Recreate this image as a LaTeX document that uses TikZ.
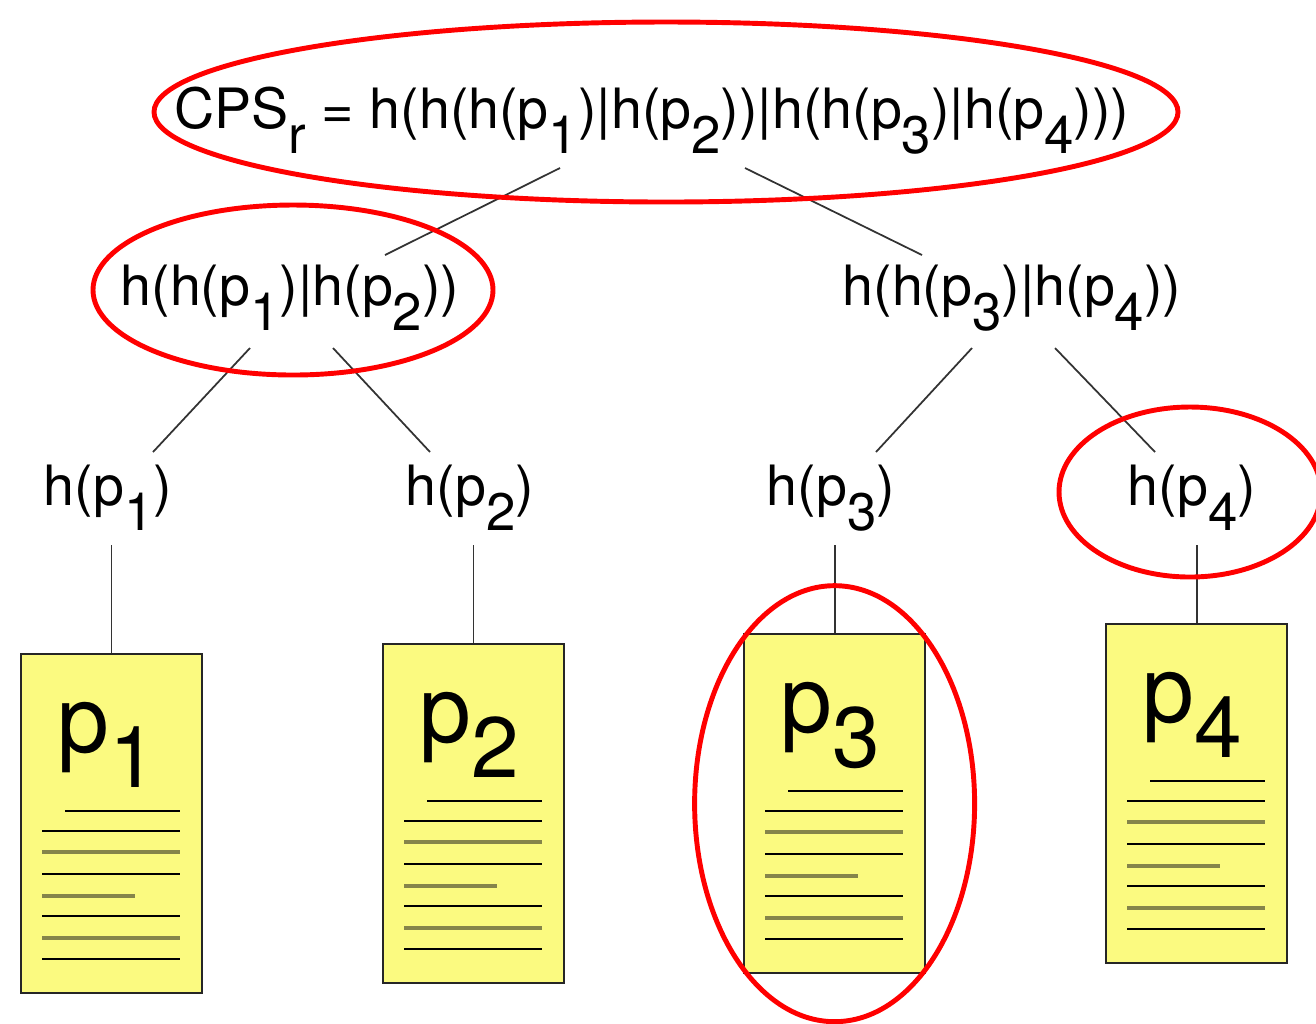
\documentclass[tikz,border=0pt]{standalone}
\usepackage{fontspec}
\setmainfont{TeX Gyre Heros}
\usepackage{graphicx}
\usetikzlibrary{calc}

\definecolor{docyellow}{HTML}{FBFA80}
\definecolor{docolive}{HTML}{85844A}

\newcommand{\ix}[1]{\raisebox{-0.45em}{\scalebox{0.95}{#1}}}
\newcommand{\dix}[1]{\raisebox{-0.38em}{\scalebox{0.92}{#1}}}

\tikzset{
  hashtxt/.style={font=\fontsize{15.8}{18}\selectfont, inner sep=0pt, anchor=base},
  doclabel/.style={font=\fontsize{26.5}{30}\selectfont, inner sep=0pt, anchor=base west},
  docbox/.style={draw=black!85, line width=0.6pt, fill=docyellow, minimum width=1.81cm, minimum height=3.39cm, anchor=north west, inner sep=0pt},
  link/.style={draw=black!80, line width=0.5pt},
  ring/.style={draw=red, line width=1.4pt},
  docline/.style={black, line width=0.6pt},
  docshade/.style={docolive, line width=0.9pt},
}

\begin{document}
\begin{tikzpicture}[x=0.01cm, y=-0.01cm]
\useasboundingbox (0,0) rectangle (1316,1023);

% hash values
\node[hashtxt] (root) at (652,128) {CPS\ix{r} = h(h(h(p\ix{1})|h(p\ix{2}))|h(h(p\ix{3})|h(p\ix{4})))};
\node[hashtxt] (h12) at (290,305) {h(h(p\ix{1})|h(p\ix{2}))};
\node[hashtxt] (h34) at (1012,305) {h(h(p\ix{3})|h(p\ix{4}))};
\foreach \n/\x in {1/108, 2/470, 3/831, 4/1192}{
\node[hashtxt] (h\n) at (\x,505) {h(p\ix{\n})};
}

% pages
\foreach \n/\x/\y in {1/20/653, 2/382/643, 3/743/633, 4/1105/623}{
\node[docbox] (doc\n) at (\x,\y) {};
\node[doclabel] (lab\n) at (\x+37,\y+99) {p\dix{\n}};
\draw[docline] (\x+45,\y+158) -- (\x+160,\y+158);
\foreach \k in {178,221,263,306}{
\draw[docline] (\x+22,\y+\k) -- (\x+160,\y+\k);
}
\draw[docshade] (\x+22,\y+199) -- (\x+160,\y+199);
\draw[docshade] (\x+22,\y+243) -- (\x+115,\y+243);
\draw[docshade] (\x+22,\y+285) -- (\x+160,\y+285);
}

% tree edges
\draw[link] ([shift={(-92,40)}]root.base) -- ([shift={(95,-50)}]h12.base);
\draw[link] ([shift={(93,40)}]root.base) -- ([shift={(-90,-50)}]h34.base);
\draw[link] ([shift={(-40,43)}]h12.base) -- ([shift={(45,-53)}]h1.base);
\draw[link] ([shift={(43,43)}]h12.base) -- ([shift={(-40,-53)}]h2.base);
\draw[link] ([shift={(-40,43)}]h34.base) -- ([shift={(45,-53)}]h3.base);
\draw[link] ([shift={(43,43)}]h34.base) -- ([shift={(-37,-53)}]h4.base);
\foreach \n in {1,...,4}{
\draw[link] (doc\n.north) -- ($(doc\n.north |- h\n.base)+(0,40)$);
}

% red marks
\draw[ring] ([shift={(14,-16)}]root.base) ellipse [x radius=512, y radius=90];
\draw[ring] ([shift={(3,-15)}]h12.base) ellipse [x radius=200, y radius=85];
\draw[ring] ([shift={(-2,-13)}]h4.base) ellipse [x radius=131, y radius=85];
\draw[ring] (doc3.center) ellipse [x radius=140, y radius=218];

\end{tikzpicture}
\end{document}
